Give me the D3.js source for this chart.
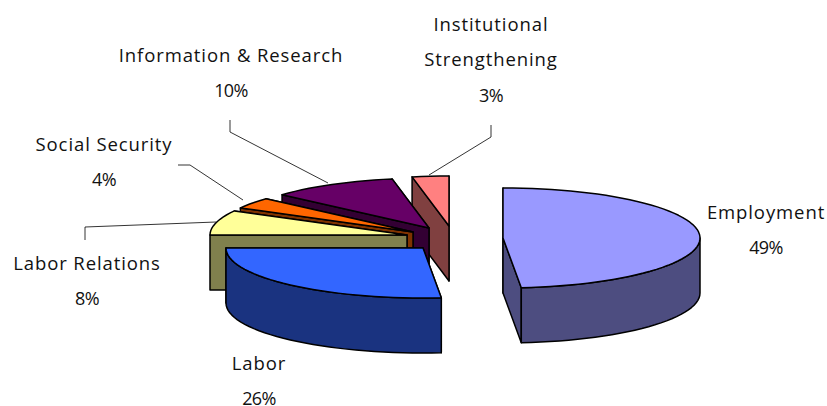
<!DOCTYPE html>
<html>
<head>
<meta charset="utf-8">
<script src="https://cdnjs.cloudflare.com/ajax/libs/d3/7.8.5/d3.min.js"></script>
<style>
    html, body { margin: 0; background: #fff; }
    text { font-family: "Open Sans", sans-serif; font-size: 18.5px; letter-spacing: 0.9px; fill: #111; text-anchor: middle; }
    text.pct { font-size: 18px; letter-spacing: -0.6px; }
</style>
</head>
<body>
<div id="chart"></div>
<script>
// Chart data, starting at 12 o'clock and going clockwise
const categories = ["Employment", "Labor", "Labor Relations", "Social Security", "Information & Research", "Institutional Strengthening"];
const shares = [48.52, 26.48, 8, 3.6, 10.4, 3];

// Colours of the top faces, the side walls are the same colours darkened by half
const topColors = ["#9999ff", "#3366ff", "#ffff99", "#ff6600", "#660066", "#ff8080"];

// Where each exploded slice has its centre, and the tilted ellipse it sits on
const width = 827, height = 406;
const radiusX = 197, radiusY = 50, depth = 55;
const sliceCenters = [[503, 238], [423, 248], [407, 235], [413, 232], [429, 228], [449, 226]];

// Label placement: centre x, baseline of the first line
const labelLayout = [
    { x: 766, lines: ["Employment"], y: 219 },
    { x: 259, lines: ["Labor"], y: 370 },
    { x: 87, lines: ["Labor Relations"], y: 270 },
    { x: 104, lines: ["Social Security"], y: 151 },
    { x: 231, lines: ["Information & Research"], y: 62 },
    { x: 491, lines: ["Institutional", "Strengthening"], y: 31 }
];
const lineStep = 35.3;

// Leader lines from labels to slices
const leaders = [
    [[85, 240], [85, 227], [216, 222]],
    [[178, 165], [190, 165], [243, 200]],
    [[230, 120], [230, 132], [328, 183]],
    [[491, 125], [491, 137], [429, 175]]
];

const svg = d3.select("#chart")
    .append("svg")
    .attr("width", width)
    .attr("height", height)
    .style("display", "block");

const pie = d3.pie().sort(null).value(d => d);
const slices = pie(shares);

// Project unit circle values on to the tilted ellipse
const projX = d3.scaleLinear().domain([-1, 1]).range([-radiusX, radiusX]);
const projY = d3.scaleLinear().domain([-1, 1]).range([-radiusY, radiusY]);
const line = d3.line();

function rimPoint(center, angle, drop) {
    return [center[0] + projX(Math.sin(angle)), center[1] + projY(-Math.cos(angle)) + drop];
}

function rim(center, a0, a1, drop) {
    const steps = Math.max(2, Math.ceil((a1 - a0) / 0.05));
    return d3.range(steps + 1).map(i => rimPoint(center, a0 + (a1 - a0) * i / steps, drop));
}

function cutFace(center, angle) {
    const p = rimPoint(center, angle, 0);
    return [center, p, [p[0], p[1] + depth], [center[0], center[1] + depth]];
}

// Paint back to front: pink first, Employment last
const paintOrder = [5, 4, 3, 2, 1, 0];

paintOrder.forEach(i => {
    const s = slices[i], c = sliceCenters[i];
    const g = svg.append("g").attr("class", "slice");
    const side = d3.rgb(topColors[i]);
    const sideColor = d3.rgb(side.r / 2, side.g / 2, side.b / 2).formatHex();

    // The cut edge nearer the viewer goes on top of the other one
    [s.startAngle, s.endAngle]
        .sort((a, b) => Math.cos(b) - Math.cos(a))
        .forEach(a => {
            g.append("path")
                .attr("d", line(cutFace(c, a)) + "Z")
                .attr("fill", sideColor);
        });

    // Outer wall only exists on the front half of the ellipse
    const a0 = Math.max(s.startAngle, Math.PI / 2);
    const a1 = Math.min(s.endAngle, 3 * Math.PI / 2);
    if (a1 > a0) {
        const wall = rim(c, a0, a1, 0).concat(rim(c, a0, a1, depth).reverse());
        g.append("path")
            .attr("d", line(wall) + "Z")
            .attr("fill", sideColor);
    }

    const top = [c].concat(rim(c, s.startAngle, s.endAngle, 0));
    g.append("path")
        .attr("d", line(top) + "Z")
        .attr("fill", topColors[i]);

    g.selectAll("path")
        .attr("stroke", "#000")
        .attr("stroke-width", 1.5)
        .attr("stroke-linejoin", "round");
});

// Leader lines
svg.selectAll(".leader")
    .data(leaders)
    .enter()
    .append("path")
    .attr("class", "leader")
    .attr("d", d => line(d))
    .attr("fill", "none")
    .attr("stroke", "#000")
    .attr("stroke-width", 0.8);

// Labels with the rounded percentage on the last line
labelLayout.forEach((l, i) => {
    const rows = l.lines.concat([d3.format(".0f")(shares[i]) + "%"]);
    svg.selectAll(null)
        .data(rows)
        .enter()
        .append("text")
        .attr("class", (d, j) => j === rows.length - 1 ? "pct" : "name")
        .attr("x", l.x)
        .attr("y", (d, j) => l.y + j * lineStep)
        .text(d => d);
});
</script>
</body>
</html>
